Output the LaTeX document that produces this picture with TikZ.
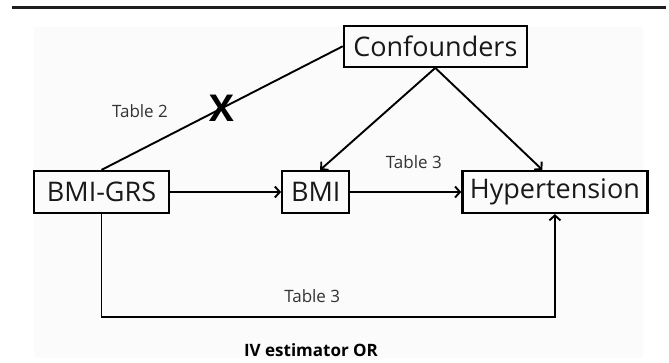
\documentclass[tikz,border=0pt]{standalone}
\usepackage{fontspec}
\setmainfont{Open Sans}
\usetikzlibrary{arrows.meta,calc,positioning}
\definecolor{rulegray}{RGB}{30,30,30}
\definecolor{panelfill}{RGB}{251,251,251}
\definecolor{labelgray}{RGB}{51,51,51}

\begin{document}
\begin{tikzpicture}[
  x=1pt, y=-1pt,
  box/.style={draw=black, line width=2.2pt, inner sep=0pt, minimum height=42pt,
    font=\fontsize{27}{30}\selectfont, text=black!90},
  lbl/.style={inner sep=0pt, text=labelgray, font=\fontsize{17}{19}\selectfont},
  cross/.style={inner sep=0pt, font=\fontsize{37}{40}\selectfont\bfseries},
  caption/.style={inner sep=0pt, font=\fontsize{17}{20}\selectfont\bfseries},
  link/.style={line width=1.9pt},
  flow/.style={-{Straight Barb[length=5pt,width=11pt]}, line width=1.9pt}
]
\useasboundingbox (0,0) rectangle (669,362);
\fill[panelfill] (34,27) rectangle (643,358);
\draw[rulegray, line width=2.2pt] (12,7.5) -- (666,7.5);

\node[box, minimum width=135pt] (grs) at (101.5,192) {BMI-GRS};
\node[box, minimum width=67pt, right=111pt of grs] (bmi) {BMI};
\node[box, minimum width=185pt, right=111pt of bmi] (hyp) {Hypertension};
\coordinate (top) at ($(bmi.north)!0.5!(hyp.north)$);
\node[box, minimum width=183pt, minimum height=41pt, above=102pt of top] (conf) {Confounders};

\draw[link] (conf.west) -- node[cross, pos=0.5] (nox) {X} (grs.north);
\node[lbl, left=54pt of nox.center, yshift=-3pt] (tabtwo) {Table 2};

\draw[flow] (conf.south) -- ([xshift=4.5pt]bmi.north);
\draw[flow] (conf.south) -- ([xshift=-12.5pt]hyp.north);
\draw[flow] (grs) -- (bmi);
\draw[flow] (bmi) -- node[lbl, midway, above=22pt, xshift=8pt] (tabthree) {Table 3} (hyp);
\draw[flow] (grs.south) -- ++(0,103) -| node[lbl, pos=0.25, above=13pt, xshift=-16pt] (tabthreeb) {Table 3} (hyp.south);

\node[caption] (ivor) at (311,350) {IV estimator OR};
\end{tikzpicture}
\end{document}
